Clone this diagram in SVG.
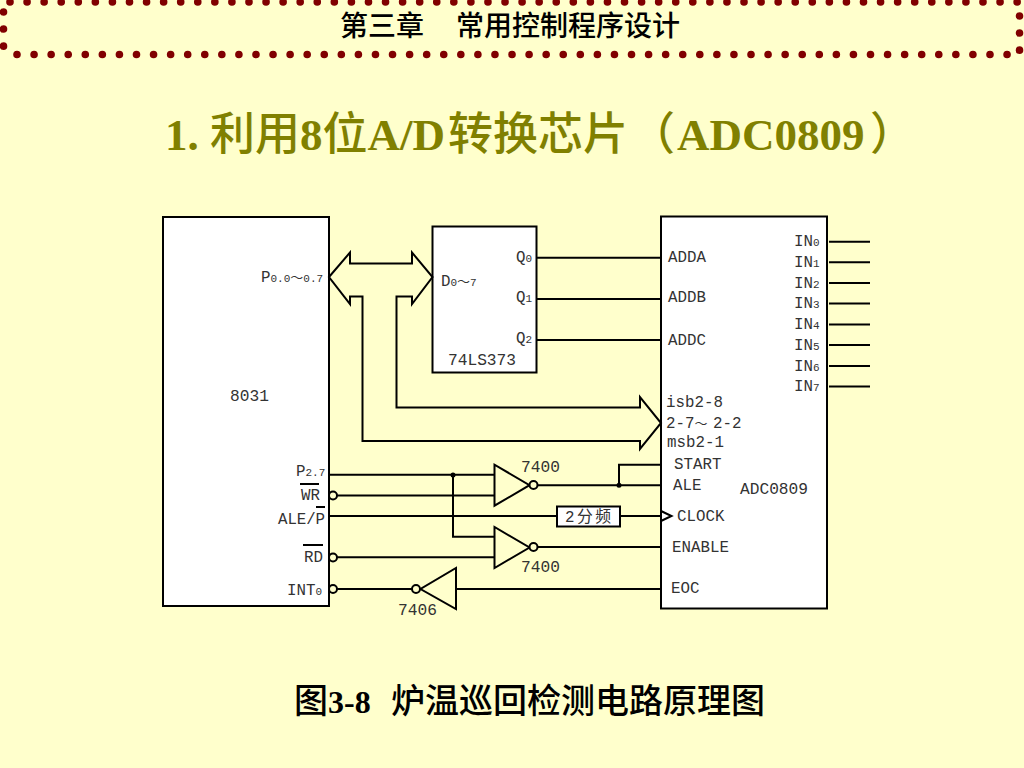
<svg xmlns="http://www.w3.org/2000/svg" width="1024" height="768" viewBox="0 0 1024 768">
<style>
.bg{fill:#FFFFCC}
.dots{fill:none;stroke:#800000;stroke-width:7.6;stroke-linecap:round;stroke-dasharray:0 17.07}
.box{fill:#fff;stroke:#000;stroke-width:2}
.w{fill:none;stroke:#000;stroke-width:2}
.gate{fill:#FFFFCC;stroke:#000;stroke-width:2;stroke-linejoin:miter}
.bub{fill:#FFFFCC;stroke:#000;stroke-width:2}
.jn{fill:#000}
text{font-family:"Liberation Mono","Noto Sans CJK SC",monospace}
.t{font-size:15.8px;fill:#333}
.b{font-size:16.2px;fill:#333}
.s{font-size:11px}
.m{font-size:13px}
.head{font-family:"Noto Sans CJK SC",sans-serif;font-size:28px;font-weight:500;fill:#000}
.title{font-family:"Liberation Serif","Noto Sans CJK SC",serif;font-size:45px;font-weight:bold;fill:#808000}
.cap{font-family:"Liberation Serif","Noto Sans CJK SC",serif;font-size:32px;font-weight:bold;fill:#000}
.cj{font-weight:500}
.cjc{font-weight:500;font-size:34px}
</style>
<rect class="bg" width="1024" height="768"/>
<g id="header">
<path class="dots" d="M10 2H1030"/>
<path class="dots" d="M17 54.5H1020"/>
<path class="dots" d="M3.5 12V58"/>
<path class="dots" d="M1019.5 16V60"/>
<text class="head" x="340" y="36">第三章<tspan x="456">常用控制程序设计</tspan></text>
</g>
<text class="title" x="165" y="150">1. <tspan class="cj">利用</tspan>8<tspan class="cj">位</tspan>A/D<tspan class="cj" x="448">转换芯片</tspan><tspan class="cj" x="630">（</tspan><tspan x="677">ADC0809</tspan><tspan class="cj" x="870">）</tspan></text>
<g id="mcu8031">
<rect class="box" x="163" y="217" width="166" height="389"/>
<text class="b" x="230" y="401">8031</text>
<text class="t" x="261" y="282">P<tspan class="s">0.0</tspan><tspan class="m">～</tspan><tspan class="s">0.7</tspan></text>
<text class="t" x="296" y="476">P<tspan class="s">2.7</tspan></text>
<text class="t" x="301" y="500">WR</text>
<path class="w" d="M300 484H319"/>
<text class="t" x="278" y="524" textLength="47">ALE/P</text>
<path class="w" d="M316 507H325"/>
<text class="t" x="304" y="562">RD</text>
<path class="w" d="M303 545H323"/>
<text class="t" x="287" y="595">INT<tspan class="s">0</tspan></text>
</g>
<g id="latch74ls373">
<rect class="box" x="432.500" y="226.500" width="104" height="146"/>
<text class="t" x="441" y="286">D<tspan class="s">0</tspan><tspan class="m">～</tspan><tspan class="s">7</tspan></text>
<text class="t" x="516" y="262">Q<tspan class="s">0</tspan></text>
<text class="t" x="516" y="302">Q<tspan class="s">1</tspan></text>
<text class="t" x="516" y="343">Q<tspan class="s">2</tspan></text>
<text class="b" x="448" y="365">74LS373</text>
</g>
<g id="adc0809">
<rect class="box" x="661" y="216.500" width="166" height="392"/>
<text class="t" x="668" y="262">ADDA</text>
<text class="t" x="668" y="302">ADDB</text>
<text class="t" x="668" y="345">ADDC</text>
<text class="t" x="794" y="246">IN<tspan class="s">0</tspan></text>
<text class="t" x="794" y="267">IN<tspan class="s">1</tspan></text>
<text class="t" x="794" y="288">IN<tspan class="s">2</tspan></text>
<text class="t" x="794" y="308">IN<tspan class="s">3</tspan></text>
<text class="t" x="794" y="329">IN<tspan class="s">4</tspan></text>
<text class="t" x="794" y="350">IN<tspan class="s">5</tspan></text>
<text class="t" x="794" y="371">IN<tspan class="s">6</tspan></text>
<text class="t" x="794" y="391">IN<tspan class="s">7</tspan></text>
<text class="t" x="666" y="407">isb2-8</text>
<text class="t" x="666" y="428">2-7<tspan class="m">～</tspan> <tspan x="713">2-2</tspan></text>
<text class="t" x="667" y="447">msb2-1</text>
<text class="t" x="674" y="469">START</text>
<text class="t" x="673" y="490">ALE</text>
<text class="t" x="677" y="521">CLOCK</text>
<text class="t" x="672" y="552">ENABLE</text>
<text class="t" x="671" y="593">EOC</text>
<text class="b" x="740" y="494">ADC0809</text>
<path class="w" d="M661 511L671.500 516L661 521"/>
</g>
<g id="connectors">
<path class="w" d="M329 277L350 252.500V263.500H412V252.500L432.500 277L412 304V296.500H396.500V407.500H640V397L661 423L640 449V441H362.500V296.500H350V304Z"/>
<path class="w" d="M536 257.700H661M536 299H661M536 340H661"/>
<path class="w" d="M829 241.700H870M829 262.300H870M829 283H870M829 303.500H870M829 324.500H870M829 345H870M829 366H870M829 386.500H870"/>
<path class="w" d="M329 474.700H494M337 495.500H494M453 474.700V536.700H494"/>
<path class="w" d="M329 516H557M620 516H661"/>
<path class="w" d="M337 557.300H494M337 589H412M456 589H661"/>
<path class="w" d="M538 485.300H661M619 485.300V464.700H661M538 547H661"/>
<circle class="jn" cx="453" cy="475" r="2.500"/>
<circle class="jn" cx="619" cy="485.300" r="2.500"/>
<circle class="bub" cx="333" cy="495.500" r="4"/>
<circle class="bub" cx="333" cy="557.500" r="4"/>
<circle class="bub" cx="333" cy="589" r="4"/>
</g>
<g id="gate7400a">
<path class="gate" d="M494.500 464.700V505.700L529.500 485.200Z"/>
<circle class="bub" cx="533.500" cy="485" r="4"/>
<text class="b" x="521" y="472">7400</text>
</g>
<g id="gate7400b">
<path class="gate" d="M494.500 527V568L529.500 547.500Z"/>
<circle class="bub" cx="533.500" cy="547" r="4"/>
<text class="b" x="521" y="572">7400</text>
</g>
<g id="gate7406">
<path class="gate" d="M456 568V609L420.500 589Z"/>
<circle class="bub" cx="416" cy="589" r="4"/>
<text class="b" x="398" y="615">7406</text>
</g>
<g id="divider">
<rect class="box" x="557" y="506.500" width="63" height="20"/>
<text class="t" x="565" y="522" textLength="46">2分频</text>
</g>
<text class="cap" x="294" y="713"><tspan class="cjc">图</tspan>3-8<tspan class="cjc" x="391">炉温巡回检测电路原理图</tspan></text>
</svg>
